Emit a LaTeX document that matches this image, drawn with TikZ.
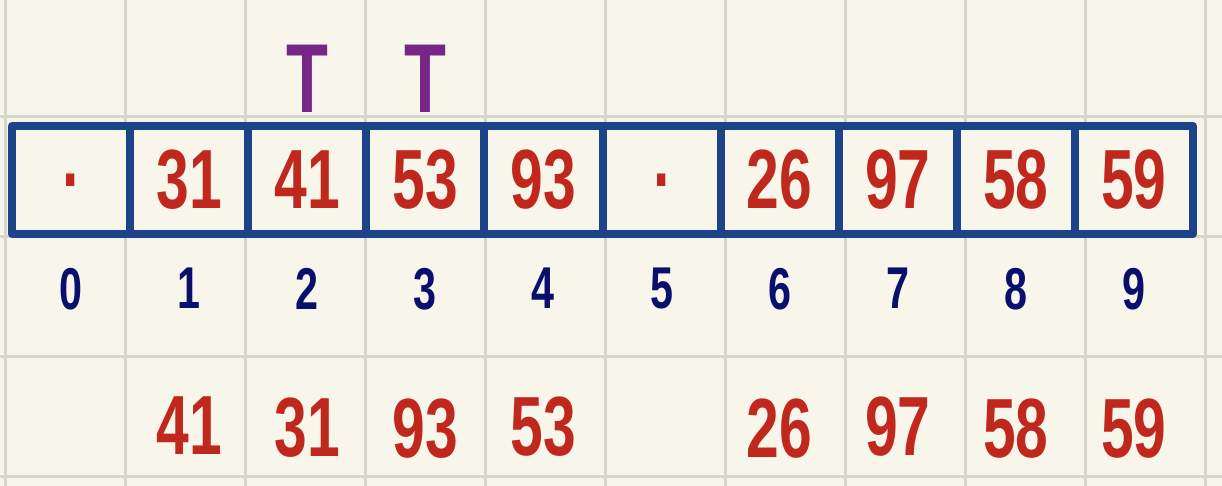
\documentclass[tikz,border=0pt]{standalone}
\usepackage{fontspec}
\newfontfamily\handfont[FakeStretch=0.7]{Liberation Sans}
\usetikzlibrary{positioning}
\definecolor{paperbg}{HTML}{F8F6EA}
\definecolor{gridgray}{HTML}{D6D6CA}
\definecolor{arrayblue}{HTML}{1D4489}
\definecolor{valred}{HTML}{C0271D}
\definecolor{idxnavy}{HTML}{0A0F6E}
\definecolor{markpurple}{HTML}{772586}
\tikzset{
  cell/.style={draw=arrayblue,fill=paperbg,line width=8pt,line join=round,minimum width=118.1pt,minimum height=108pt,inner sep=0pt,outer sep=0pt,text=valred,font=\handfont\bfseries\fontsize{84}{84}\selectfont},
  idx/.style={inner sep=0pt,text=idxnavy,font=\handfont\bfseries\fontsize{59}{59}\selectfont},
  val/.style={inner sep=0pt,text=valred,font=\handfont\bfseries\fontsize{84}{84}\selectfont},
  tmark/.style={inner sep=0pt,text=markpurple,font=\handfont\bfseries\fontsize{98}{98}\selectfont},
  gridline/.style={gridgray,line width=3pt}
}
\begin{document}
\begin{tikzpicture}[x=1pt,y=1pt]
\fill[paperbg] (0,0) rectangle (1222,486);
\useasboundingbox (0,0) rectangle (1222,486);
% paper grid
\foreach \gx in {5,125,...,1205} \draw[gridline] (\gx,0) -- (\gx,486);
\foreach \gy in {9,129,249,369} \draw[gridline] (0,\gy) -- (1222,\gy);
% array cells
\node[cell] (c0) at (71.05,306) {.};
\node[cell,right=0pt of c0] (c1) {31};
\node[cell,right=0pt of c1] (c2) {41};
\node[cell,right=0pt of c2] (c3) {53};
\node[cell,right=0pt of c3] (c4) {93};
\node[cell,right=0pt of c4] (c5) {.};
\node[cell,right=0pt of c5] (c6) {26};
\node[cell,right=0pt of c6] (c7) {97};
\node[cell,right=0pt of c7] (c8) {58};
\node[cell,right=0pt of c8] (c9) {59};
% indices
\node[idx,below=34pt of c0] (i0) {0};
\node[idx,below=34pt of c1] (i1) {1};
\node[idx,below=34pt of c2] (i2) {2};
\node[idx,below=34pt of c3] (i3) {3};
\node[idx,below=34pt of c4] (i4) {4};
\node[idx,below=34pt of c5] (i5) {5};
\node[idx,below=34pt of c6] (i6) {6};
\node[idx,below=34pt of c7] (i7) {7};
\node[idx,below=34pt of c8] (i8) {8};
\node[idx,below=34pt of c9] (i9) {9};
% marks above
\node[tmark,above=13pt of c2] (t2) {T};
\node[tmark,above=13pt of c3] (t3) {T};
% values after the step
\node[val,below=88pt of i1] (b1) {41};
\node[val,below=88pt of i2] (b2) {31};
\node[val,below=88pt of i3] (b3) {93};
\node[val,below=88pt of i4] (b4) {53};
\node[val,below=88pt of i6] (b6) {26};
\node[val,below=88pt of i7] (b7) {97};
\node[val,below=88pt of i8] (b8) {58};
\node[val,below=88pt of i9] (b9) {59};
\end{tikzpicture}
\end{document}
